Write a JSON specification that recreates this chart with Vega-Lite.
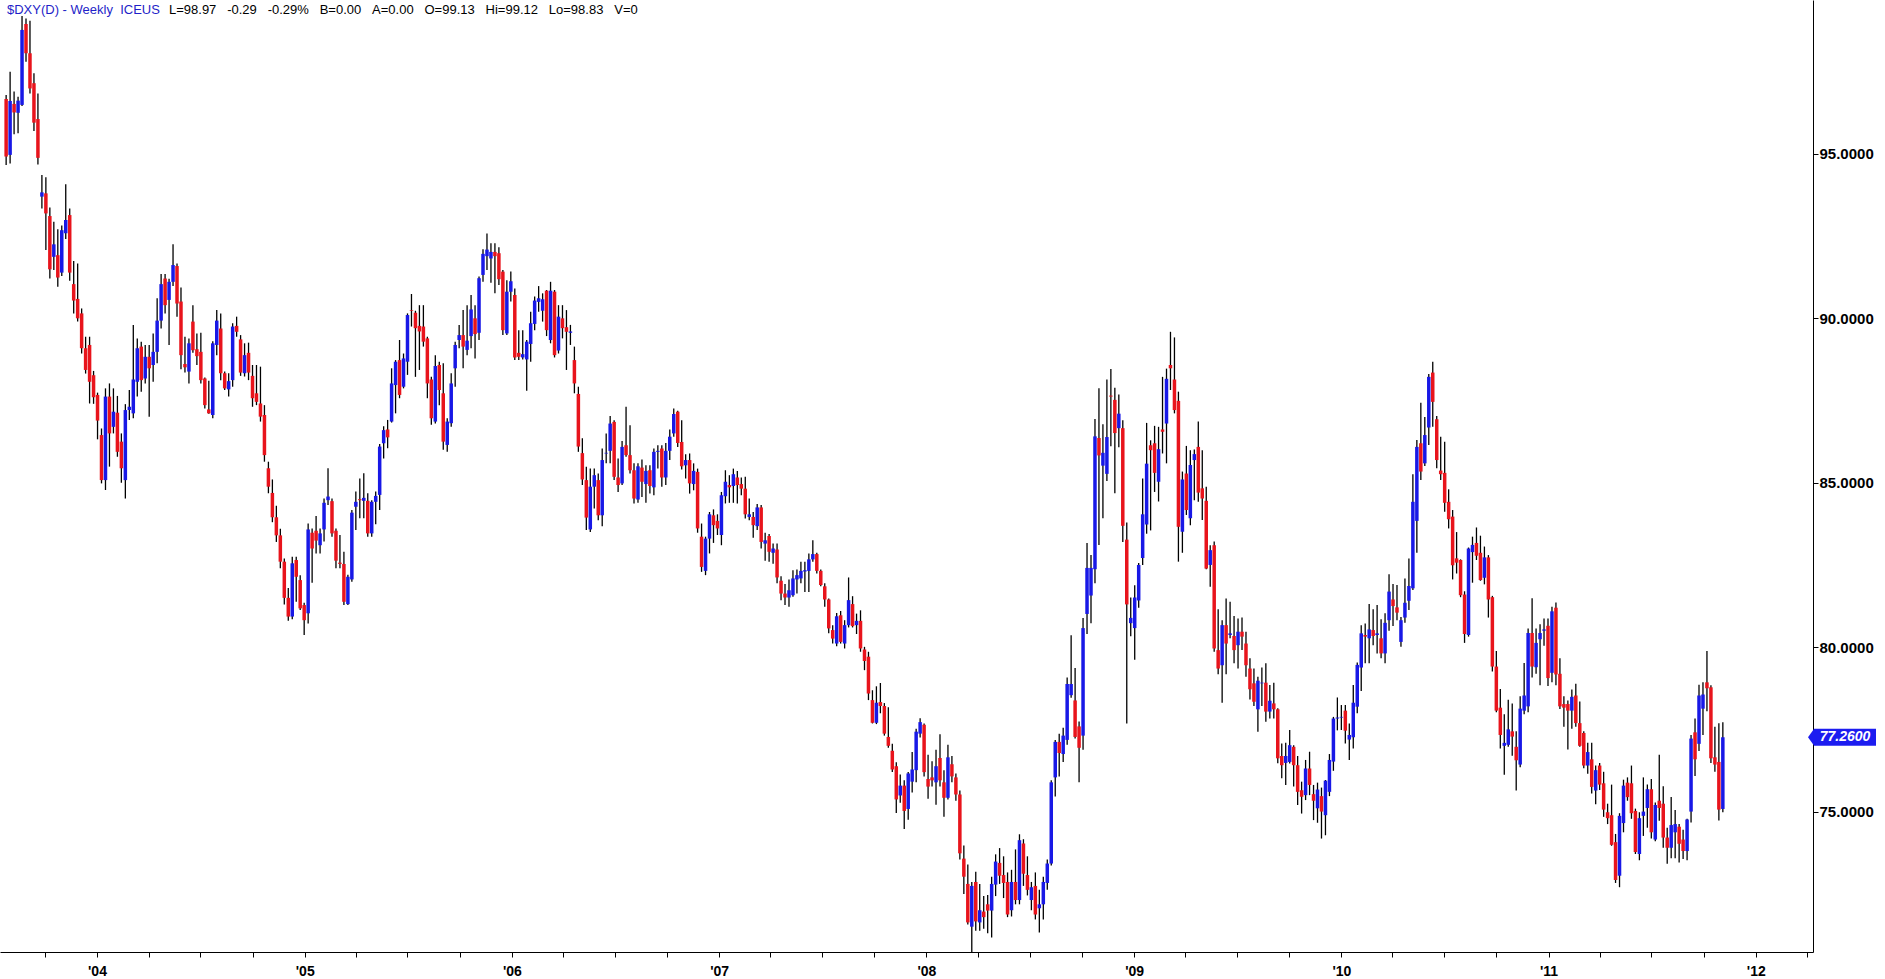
{
"$schema":"https://vega.github.io/schema/vega-lite/v6.json",
"width":1813,"height":952,"padding":0,
"background":"white",
"config":{"view":{"stroke":null}},
"data":{"values":[
{"d":"2003-07-25","o":96.67,"h":96.79,"l":94.66,"c":94.92},
{"d":"2003-08-01","o":94.97,"h":97.5,"l":94.71,"c":96.61},
{"d":"2003-08-08","o":96.52,"h":96.9,"l":95.6,"c":96.26},
{"d":"2003-08-15","o":96.25,"h":96.74,"l":95.63,"c":96.62},
{"d":"2003-08-22","o":96.49,"h":99.19,"l":96.46,"c":98.77},
{"d":"2003-08-29","o":98.95,"h":99.12,"l":97.8,"c":98.06},
{"d":"2003-09-05","o":98.06,"h":99.05,"l":96.84,"c":96.99},
{"d":"2003-09-12","o":97.15,"h":97.45,"l":95.7,"c":95.95},
{"d":"2003-09-19","o":96.06,"h":96.84,"l":94.68,"c":94.88},
{"d":"2003-09-26","o":93.7,"h":94.36,"l":93.34,"c":93.83},
{"d":"2003-10-03","o":93.8,"h":94.29,"l":92.08,"c":93.19},
{"d":"2003-10-10","o":93.11,"h":93.37,"l":91.21,"c":91.49},
{"d":"2003-10-17","o":91.87,"h":92.94,"l":91.47,"c":92.25},
{"d":"2003-10-24","o":91.92,"h":92.71,"l":90.96,"c":91.24},
{"d":"2003-10-31","o":91.39,"h":92.82,"l":91.29,"c":92.68},
{"d":"2003-11-07","o":92.59,"h":94.08,"l":92.41,"c":92.99},
{"d":"2003-11-14","o":93.14,"h":93.34,"l":91.14,"c":91.39},
{"d":"2003-11-21","o":91.04,"h":91.74,"l":90.15,"c":90.54},
{"d":"2003-11-28","o":90.59,"h":91.67,"l":89.9,"c":90.0},
{"d":"2003-12-05","o":90.15,"h":90.3,"l":88.93,"c":89.09},
{"d":"2003-12-12","o":89.09,"h":89.44,"l":88.32,"c":88.43},
{"d":"2003-12-19","o":89.19,"h":89.44,"l":87.41,"c":88.07},
{"d":"2003-12-26","o":88.27,"h":88.4,"l":87.4,"c":87.6},
{"d":"2004-01-02","o":87.67,"h":87.74,"l":86.32,"c":86.89},
{"d":"2004-01-09","o":86.45,"h":86.65,"l":84.98,"c":85.08},
{"d":"2004-01-16","o":85.08,"h":87.87,"l":84.78,"c":87.62},
{"d":"2004-01-23","o":87.62,"h":88.02,"l":85.49,"c":86.5},
{"d":"2004-01-30","o":86.7,"h":87.87,"l":86.5,"c":87.16},
{"d":"2004-02-06","o":87.13,"h":87.64,"l":85.79,"c":85.94},
{"d":"2004-02-13","o":86.25,"h":86.5,"l":85.0,"c":85.44},
{"d":"2004-02-20","o":85.08,"h":87.39,"l":84.52,"c":87.21},
{"d":"2004-02-27","o":87.21,"h":87.82,"l":86.91,"c":87.31},
{"d":"2004-03-05","o":87.11,"h":89.8,"l":86.96,"c":88.14},
{"d":"2004-03-12","o":88.07,"h":89.39,"l":87.62,"c":89.09},
{"d":"2004-03-19","o":89.14,"h":89.29,"l":87.77,"c":88.12},
{"d":"2004-03-26","o":88.17,"h":89.19,"l":88.02,"c":88.83},
{"d":"2004-04-02","o":88.83,"h":89.19,"l":87.01,"c":88.48},
{"d":"2004-04-09","o":88.58,"h":89.54,"l":88.07,"c":88.98},
{"d":"2004-04-16","o":88.98,"h":90.61,"l":88.63,"c":89.93},
{"d":"2004-04-23","o":89.93,"h":91.35,"l":89.69,"c":91.04},
{"d":"2004-04-30","o":91.21,"h":91.35,"l":90.15,"c":90.4},
{"d":"2004-05-07","o":90.56,"h":91.2,"l":89.19,"c":91.11},
{"d":"2004-05-14","o":91.11,"h":92.25,"l":90.98,"c":91.62},
{"d":"2004-05-21","o":91.59,"h":91.67,"l":90.05,"c":90.45},
{"d":"2004-05-28","o":90.51,"h":90.94,"l":88.45,"c":88.88},
{"d":"2004-06-04","o":88.61,"h":89.44,"l":88.35,"c":88.51},
{"d":"2004-06-11","o":88.38,"h":89.39,"l":88.02,"c":89.24},
{"d":"2004-06-18","o":89.9,"h":90.4,"l":88.95,"c":89.03},
{"d":"2004-06-25","o":89.06,"h":89.54,"l":88.58,"c":88.85},
{"d":"2004-07-02","o":88.98,"h":89.56,"l":88.02,"c":88.12},
{"d":"2004-07-09","o":88.17,"h":88.2,"l":87.26,"c":87.36},
{"d":"2004-07-16","o":87.23,"h":88.1,"l":87.1,"c":87.11},
{"d":"2004-07-23","o":87.06,"h":89.3,"l":86.96,"c":89.24},
{"d":"2004-07-30","o":89.19,"h":90.25,"l":88.88,"c":89.93},
{"d":"2004-08-06","o":89.69,"h":90.15,"l":88.12,"c":88.33},
{"d":"2004-08-13","o":88.33,"h":88.38,"l":87.82,"c":87.87},
{"d":"2004-08-20","o":87.84,"h":88.33,"l":87.62,"c":88.09},
{"d":"2004-08-27","o":88.12,"h":89.85,"l":87.92,"c":89.75},
{"d":"2004-09-03","o":89.77,"h":90.05,"l":89.44,"c":89.59},
{"d":"2004-09-10","o":89.36,"h":89.49,"l":88.25,"c":88.35},
{"d":"2004-09-17","o":88.33,"h":89.24,"l":88.23,"c":88.88},
{"d":"2004-09-24","o":88.95,"h":89.26,"l":88.12,"c":88.35},
{"d":"2004-10-01","o":88.25,"h":88.58,"l":87.31,"c":87.57},
{"d":"2004-10-08","o":87.72,"h":88.58,"l":87.36,"c":87.46},
{"d":"2004-10-15","o":87.41,"h":88.53,"l":86.86,"c":87.01},
{"d":"2004-10-22","o":87.06,"h":87.36,"l":85.64,"c":85.84},
{"d":"2004-10-29","o":85.44,"h":85.64,"l":84.68,"c":84.88},
{"d":"2004-11-05","o":84.69,"h":85.1,"l":83.8,"c":83.95},
{"d":"2004-11-12","o":83.95,"h":84.3,"l":83.2,"c":83.4},
{"d":"2004-11-19","o":83.4,"h":83.6,"l":82.4,"c":82.6},
{"d":"2004-11-26","o":82.6,"h":82.7,"l":81.3,"c":81.5},
{"d":"2004-12-03","o":81.5,"h":81.8,"l":80.8,"c":80.93},
{"d":"2004-12-10","o":80.93,"h":82.75,"l":80.85,"c":82.55},
{"d":"2004-12-17","o":82.65,"h":82.75,"l":81.38,"c":82.14},
{"d":"2004-12-24","o":82.04,"h":82.19,"l":81.13,"c":81.18},
{"d":"2004-12-31","o":81.28,"h":81.35,"l":80.37,"c":80.82},
{"d":"2005-01-07","o":81.03,"h":83.76,"l":80.72,"c":83.58},
{"d":"2005-01-14","o":83.48,"h":83.61,"l":81.96,"c":83.0},
{"d":"2005-01-21","o":83.54,"h":83.99,"l":82.85,"c":83.24},
{"d":"2005-01-28","o":83.1,"h":83.61,"l":82.85,"c":83.46},
{"d":"2005-02-04","o":83.58,"h":84.52,"l":83.21,"c":84.39},
{"d":"2005-02-11","o":84.47,"h":85.44,"l":84.32,"c":84.58},
{"d":"2005-02-18","o":84.44,"h":84.52,"l":83.36,"c":83.46},
{"d":"2005-02-25","o":83.54,"h":83.61,"l":82.4,"c":82.63},
{"d":"2005-03-04","o":82.57,"h":83.41,"l":82.4,"c":82.53},
{"d":"2005-03-11","o":82.53,"h":82.9,"l":81.28,"c":81.38},
{"d":"2005-03-18","o":81.31,"h":82.2,"l":81.28,"c":82.14},
{"d":"2005-03-25","o":82.06,"h":84.17,"l":81.99,"c":84.09},
{"d":"2005-04-01","o":84.27,"h":84.73,"l":83.56,"c":84.42},
{"d":"2005-04-08","o":84.5,"h":85.13,"l":83.92,"c":84.47},
{"d":"2005-04-15","o":84.45,"h":85.29,"l":83.92,"c":84.54},
{"d":"2005-04-22","o":84.45,"h":84.68,"l":83.36,"c":83.46},
{"d":"2005-04-29","o":83.46,"h":84.47,"l":83.36,"c":84.42},
{"d":"2005-05-06","o":84.42,"h":84.73,"l":83.74,"c":84.6},
{"d":"2005-05-13","o":84.63,"h":86.18,"l":84.17,"c":86.1},
{"d":"2005-05-20","o":86.2,"h":86.72,"l":85.74,"c":86.6},
{"d":"2005-05-27","o":86.62,"h":86.91,"l":86.05,"c":86.38},
{"d":"2005-06-03","o":86.86,"h":88.48,"l":86.83,"c":88.02},
{"d":"2005-06-10","o":87.97,"h":88.73,"l":87.11,"c":88.68},
{"d":"2005-06-17","o":88.73,"h":89.34,"l":87.57,"c":87.67},
{"d":"2005-06-24","o":87.92,"h":88.93,"l":87.87,"c":88.78},
{"d":"2005-07-01","o":88.68,"h":90.15,"l":88.28,"c":90.1},
{"d":"2005-07-08","o":90.25,"h":90.74,"l":89.75,"c":90.23},
{"d":"2005-07-15","o":90.17,"h":90.23,"l":88.22,"c":89.7},
{"d":"2005-07-22","o":89.77,"h":90.4,"l":88.43,"c":89.6},
{"d":"2005-07-29","o":89.75,"h":90.4,"l":89.14,"c":89.29},
{"d":"2005-08-05","o":89.39,"h":89.44,"l":87.57,"c":88.02},
{"d":"2005-08-12","o":88.14,"h":88.22,"l":86.76,"c":86.96},
{"d":"2005-08-19","o":86.86,"h":88.88,"l":86.8,"c":88.55},
{"d":"2005-08-26","o":88.58,"h":88.68,"l":87.36,"c":87.82},
{"d":"2005-09-02","o":87.72,"h":88.63,"l":86.0,"c":86.25},
{"d":"2005-09-09","o":86.15,"h":86.96,"l":85.94,"c":86.86},
{"d":"2005-09-16","o":86.81,"h":88.33,"l":86.7,"c":88.02},
{"d":"2005-09-23","o":88.48,"h":89.29,"l":87.92,"c":89.19},
{"d":"2005-09-30","o":89.34,"h":89.8,"l":89.09,"c":89.49},
{"d":"2005-10-07","o":89.49,"h":90.25,"l":88.48,"c":89.14},
{"d":"2005-10-14","o":89.04,"h":90.4,"l":88.88,"c":89.32},
{"d":"2005-10-21","o":89.46,"h":90.71,"l":89.09,"c":90.27},
{"d":"2005-10-28","o":90.0,"h":90.4,"l":88.78,"c":89.52},
{"d":"2005-11-04","o":89.56,"h":91.27,"l":89.34,"c":91.22},
{"d":"2005-11-11","o":91.32,"h":92.1,"l":91.11,"c":91.96},
{"d":"2005-11-18","o":91.89,"h":92.58,"l":91.47,"c":92.09},
{"d":"2005-11-25","o":91.82,"h":92.28,"l":91.08,"c":92.02},
{"d":"2005-12-02","o":92.02,"h":92.28,"l":90.76,"c":91.89},
{"d":"2005-12-09","o":91.98,"h":92.16,"l":91.01,"c":91.19},
{"d":"2005-12-16","o":91.42,"h":91.47,"l":89.49,"c":89.64},
{"d":"2005-12-23","o":89.54,"h":91.16,"l":89.49,"c":90.81},
{"d":"2005-12-30","o":90.81,"h":91.42,"l":90.51,"c":91.13},
{"d":"2006-01-06","o":90.71,"h":90.91,"l":88.73,"c":88.81},
{"d":"2006-01-13","o":88.95,"h":89.64,"l":88.73,"c":88.83},
{"d":"2006-01-20","o":88.81,"h":89.64,"l":88.75,"c":88.91},
{"d":"2006-01-27","o":88.75,"h":89.34,"l":87.8,"c":89.29},
{"d":"2006-02-03","o":89.22,"h":90.2,"l":88.68,"c":89.85},
{"d":"2006-02-10","o":89.83,"h":90.66,"l":89.64,"c":90.54},
{"d":"2006-02-17","o":90.5,"h":90.98,"l":90.2,"c":90.61},
{"d":"2006-02-24","o":90.23,"h":90.76,"l":89.9,"c":90.58},
{"d":"2006-03-03","o":90.84,"h":90.86,"l":89.46,"c":89.64},
{"d":"2006-03-10","o":89.34,"h":91.11,"l":89.24,"c":90.84},
{"d":"2006-03-17","o":90.81,"h":90.86,"l":88.81,"c":88.88},
{"d":"2006-03-24","o":89.02,"h":90.4,"l":88.93,"c":90.05},
{"d":"2006-03-31","o":90.0,"h":90.4,"l":89.39,"c":89.7},
{"d":"2006-04-07","o":89.73,"h":90.25,"l":88.43,"c":89.59},
{"d":"2006-04-14","o":89.56,"h":89.8,"l":89.19,"c":89.6},
{"d":"2006-04-21","o":88.73,"h":89.14,"l":87.72,"c":88.02},
{"d":"2006-04-28","o":87.7,"h":87.92,"l":85.94,"c":86.1},
{"d":"2006-05-05","o":85.9,"h":86.35,"l":84.93,"c":85.1},
{"d":"2006-05-12","o":85.08,"h":85.49,"l":83.56,"c":83.94},
{"d":"2006-05-19","o":83.58,"h":85.43,"l":83.5,"c":84.88},
{"d":"2006-05-26","o":84.88,"h":85.43,"l":84.22,"c":85.23},
{"d":"2006-06-02","o":85.08,"h":85.28,"l":83.86,"c":84.01},
{"d":"2006-06-09","o":84.01,"h":86.04,"l":83.68,"c":85.69},
{"d":"2006-06-16","o":85.89,"h":86.5,"l":85.59,"c":85.91},
{"d":"2006-06-23","o":85.97,"h":87.03,"l":85.59,"c":86.8},
{"d":"2006-06-30","o":86.85,"h":86.9,"l":85.08,"c":85.18},
{"d":"2006-07-07","o":85.16,"h":85.74,"l":84.72,"c":84.93},
{"d":"2006-07-14","o":84.98,"h":86.27,"l":84.93,"c":86.09},
{"d":"2006-07-21","o":86.14,"h":87.31,"l":85.79,"c":85.84},
{"d":"2006-07-28","o":85.84,"h":86.75,"l":85.28,"c":85.38},
{"d":"2006-08-04","o":85.38,"h":85.59,"l":84.37,"c":84.52},
{"d":"2006-08-11","o":84.49,"h":85.59,"l":84.39,"c":85.5},
{"d":"2006-08-18","o":85.46,"h":85.71,"l":84.57,"c":85.03},
{"d":"2006-08-25","o":84.96,"h":85.53,"l":84.39,"c":85.36},
{"d":"2006-09-01","o":85.38,"h":85.53,"l":84.67,"c":84.9},
{"d":"2006-09-08","o":84.86,"h":86.04,"l":84.62,"c":85.94},
{"d":"2006-09-15","o":85.94,"h":86.14,"l":85.43,"c":85.97},
{"d":"2006-09-22","o":86.04,"h":86.14,"l":84.88,"c":85.16},
{"d":"2006-09-29","o":85.16,"h":86.21,"l":84.93,"c":85.97},
{"d":"2006-10-06","o":85.97,"h":86.62,"l":85.69,"c":86.4},
{"d":"2006-10-13","o":86.5,"h":87.26,"l":86.4,"c":87.09},
{"d":"2006-10-20","o":87.16,"h":87.19,"l":86.09,"c":86.21},
{"d":"2006-10-27","o":86.24,"h":86.9,"l":85.4,"c":85.5},
{"d":"2006-11-03","o":85.53,"h":85.87,"l":85.13,"c":85.69},
{"d":"2006-11-10","o":85.69,"h":85.89,"l":84.67,"c":84.98},
{"d":"2006-11-17","o":84.96,"h":85.59,"l":84.77,"c":85.36},
{"d":"2006-11-24","o":85.33,"h":85.43,"l":83.48,"c":83.61},
{"d":"2006-12-01","o":83.36,"h":83.76,"l":82.29,"c":82.44},
{"d":"2006-12-08","o":82.32,"h":83.36,"l":82.19,"c":83.3},
{"d":"2006-12-15","o":83.3,"h":84.11,"l":82.85,"c":84.04},
{"d":"2006-12-22","o":84.01,"h":84.19,"l":83.17,"c":83.71},
{"d":"2006-12-29","o":83.84,"h":84.04,"l":83.41,"c":83.61},
{"d":"2007-01-05","o":83.41,"h":84.72,"l":83.1,"c":84.62},
{"d":"2007-01-12","o":84.59,"h":85.38,"l":84.37,"c":85.03},
{"d":"2007-01-19","o":84.93,"h":85.23,"l":84.39,"c":84.86},
{"d":"2007-01-26","o":84.9,"h":85.43,"l":84.39,"c":85.26},
{"d":"2007-02-02","o":85.16,"h":85.36,"l":84.37,"c":84.93},
{"d":"2007-02-09","o":84.96,"h":85.16,"l":84.62,"c":84.82},
{"d":"2007-02-16","o":84.82,"h":85.18,"l":83.91,"c":84.04},
{"d":"2007-02-23","o":83.96,"h":84.52,"l":83.86,"c":84.04},
{"d":"2007-03-02","o":83.96,"h":84.11,"l":83.33,"c":83.71},
{"d":"2007-03-09","o":83.68,"h":84.35,"l":83.56,"c":84.25},
{"d":"2007-03-16","o":84.25,"h":84.32,"l":83.0,"c":83.2},
{"d":"2007-03-23","o":83.15,"h":83.48,"l":82.63,"c":83.25},
{"d":"2007-03-30","o":83.38,"h":83.44,"l":82.6,"c":82.9},
{"d":"2007-04-06","o":82.87,"h":83.15,"l":82.54,"c":83.0},
{"d":"2007-04-13","o":82.97,"h":83.15,"l":81.94,"c":82.12},
{"d":"2007-04-20","o":82.02,"h":82.16,"l":81.43,"c":81.63},
{"d":"2007-04-27","o":81.63,"h":81.92,"l":81.28,"c":81.51},
{"d":"2007-05-04","o":81.51,"h":82.06,"l":81.23,"c":81.73},
{"d":"2007-05-11","o":81.58,"h":82.34,"l":81.53,"c":82.09},
{"d":"2007-05-18","o":82.06,"h":82.36,"l":81.63,"c":82.19},
{"d":"2007-05-25","o":82.09,"h":82.6,"l":81.94,"c":82.32},
{"d":"2007-06-01","o":82.3,"h":82.6,"l":81.68,"c":82.34},
{"d":"2007-06-08","o":82.32,"h":82.85,"l":81.68,"c":82.67},
{"d":"2007-06-15","o":82.67,"h":83.25,"l":82.6,"c":82.83},
{"d":"2007-06-22","o":82.83,"h":82.87,"l":82.24,"c":82.32},
{"d":"2007-06-29","o":82.32,"h":82.36,"l":81.85,"c":81.89},
{"d":"2007-07-06","o":81.85,"h":81.94,"l":81.23,"c":81.45},
{"d":"2007-07-13","o":81.45,"h":81.48,"l":80.42,"c":80.57},
{"d":"2007-07-20","o":80.52,"h":80.67,"l":80.11,"c":80.26},
{"d":"2007-07-27","o":80.11,"h":81.04,"l":80.03,"c":80.94},
{"d":"2007-08-03","o":80.97,"h":81.1,"l":80.11,"c":80.16},
{"d":"2007-08-10","o":80.11,"h":80.82,"l":79.96,"c":80.67},
{"d":"2007-08-17","o":80.67,"h":82.12,"l":80.6,"c":81.43},
{"d":"2007-08-24","o":81.31,"h":81.55,"l":80.6,"c":80.64},
{"d":"2007-08-31","o":80.67,"h":81.02,"l":80.4,"c":80.8},
{"d":"2007-09-07","o":80.8,"h":81.12,"l":79.86,"c":79.96},
{"d":"2007-09-14","o":79.93,"h":80.01,"l":79.3,"c":79.58},
{"d":"2007-09-21","o":79.71,"h":79.86,"l":78.39,"c":78.59},
{"d":"2007-09-28","o":78.39,"h":78.69,"l":77.68,"c":77.7},
{"d":"2007-10-05","o":77.7,"h":78.81,"l":77.66,"c":78.31},
{"d":"2007-10-12","o":78.33,"h":78.91,"l":77.99,"c":78.21},
{"d":"2007-10-19","o":78.21,"h":78.3,"l":77.31,"c":77.37},
{"d":"2007-10-26","o":77.27,"h":78.17,"l":76.94,"c":77.0},
{"d":"2007-11-02","o":76.85,"h":77.06,"l":76.2,"c":76.28},
{"d":"2007-11-09","o":76.38,"h":76.5,"l":74.96,"c":75.37},
{"d":"2007-11-16","o":75.49,"h":76.13,"l":75.27,"c":75.79},
{"d":"2007-11-23","o":75.79,"h":75.95,"l":74.47,"c":75.02},
{"d":"2007-11-30","o":75.08,"h":76.2,"l":74.75,"c":76.16},
{"d":"2007-12-07","o":75.91,"h":76.81,"l":75.58,"c":76.28},
{"d":"2007-12-14","o":76.26,"h":77.52,"l":75.89,"c":77.43},
{"d":"2007-12-21","o":77.37,"h":77.84,"l":77.25,"c":77.72},
{"d":"2007-12-28","o":77.64,"h":77.68,"l":76.07,"c":76.2},
{"d":"2008-01-04","o":75.99,"h":76.73,"l":75.39,"c":75.76},
{"d":"2008-01-11","o":76.04,"h":76.53,"l":75.76,"c":75.95},
{"d":"2008-01-18","o":75.89,"h":76.88,"l":75.21,"c":76.38},
{"d":"2008-01-25","o":76.63,"h":77.35,"l":75.76,"c":75.95},
{"d":"2008-02-01","o":75.89,"h":76.26,"l":74.84,"c":75.42},
{"d":"2008-02-08","o":75.42,"h":77.03,"l":75.37,"c":76.65},
{"d":"2008-02-15","o":76.44,"h":76.69,"l":75.89,"c":76.07},
{"d":"2008-02-22","o":76.04,"h":76.16,"l":75.33,"c":75.52},
{"d":"2008-02-29","o":75.52,"h":75.64,"l":73.54,"c":73.73},
{"d":"2008-03-07","o":73.57,"h":73.97,"l":72.49,"c":73.02},
{"d":"2008-03-14","o":72.8,"h":73.39,"l":71.57,"c":71.63},
{"d":"2008-03-21","o":71.5,"h":72.86,"l":70.7,"c":72.74},
{"d":"2008-03-28","o":72.86,"h":73.17,"l":71.38,"c":71.66},
{"d":"2008-04-04","o":71.63,"h":72.8,"l":71.38,"c":72.0},
{"d":"2008-04-11","o":71.96,"h":72.43,"l":71.44,"c":71.79},
{"d":"2008-04-18","o":72.18,"h":72.46,"l":71.3,"c":71.99},
{"d":"2008-04-25","o":71.99,"h":73.02,"l":71.17,"c":72.8},
{"d":"2008-05-02","o":72.78,"h":73.7,"l":72.43,"c":73.48},
{"d":"2008-05-09","o":73.44,"h":73.89,"l":72.8,"c":73.05},
{"d":"2008-05-16","o":73.07,"h":73.64,"l":72.37,"c":72.83},
{"d":"2008-05-23","o":72.86,"h":73.15,"l":71.79,"c":71.87},
{"d":"2008-05-30","o":72.0,"h":73.23,"l":71.81,"c":72.86},
{"d":"2008-06-06","o":72.86,"h":73.85,"l":72.18,"c":72.31},
{"d":"2008-06-13","o":72.31,"h":74.31,"l":72.18,"c":74.13},
{"d":"2008-06-20","o":74.03,"h":74.16,"l":72.74,"c":73.11},
{"d":"2008-06-27","o":73.07,"h":73.64,"l":72.45,"c":72.62},
{"d":"2008-07-04","o":72.31,"h":72.86,"l":72.0,"c":72.7},
{"d":"2008-07-11","o":72.74,"h":73.15,"l":71.72,"c":71.87},
{"d":"2008-07-18","o":72.06,"h":72.62,"l":71.32,"c":72.18},
{"d":"2008-07-25","o":72.18,"h":73.02,"l":71.72,"c":72.86},
{"d":"2008-08-01","o":72.83,"h":73.54,"l":72.62,"c":73.42},
{"d":"2008-08-08","o":73.42,"h":75.95,"l":73.36,"c":75.89},
{"d":"2008-08-15","o":76.04,"h":77.18,"l":75.46,"c":77.12},
{"d":"2008-08-22","o":77.12,"h":77.37,"l":76.07,"c":76.78},
{"d":"2008-08-29","o":76.75,"h":77.55,"l":76.51,"c":77.31},
{"d":"2008-09-05","o":77.18,"h":79.08,"l":77.03,"c":78.88},
{"d":"2008-09-12","o":78.54,"h":80.36,"l":78.46,"c":78.88},
{"d":"2008-09-19","o":78.38,"h":79.37,"l":77.22,"c":77.27},
{"d":"2008-09-26","o":77.59,"h":77.74,"l":75.89,"c":76.94},
{"d":"2008-10-03","o":77.31,"h":80.89,"l":76.88,"c":80.58},
{"d":"2008-10-10","o":81.01,"h":83.17,"l":80.4,"c":82.41},
{"d":"2008-10-17","o":81.57,"h":82.8,"l":80.73,"c":82.41},
{"d":"2008-10-24","o":82.37,"h":86.94,"l":81.94,"c":86.41},
{"d":"2008-10-31","o":86.36,"h":87.87,"l":83.11,"c":85.83},
{"d":"2008-11-07","o":85.52,"h":86.78,"l":83.92,"c":85.91},
{"d":"2008-11-14","o":85.27,"h":88.14,"l":85.05,"c":86.39},
{"d":"2008-11-21","o":87.65,"h":88.46,"l":86.11,"c":87.62},
{"d":"2008-11-28","o":87.52,"h":87.89,"l":84.68,"c":86.51},
{"d":"2008-12-05","o":86.66,"h":87.68,"l":86.08,"c":87.1},
{"d":"2008-12-12","o":86.66,"h":86.9,"l":83.2,"c":83.69},
{"d":"2008-12-19","o":83.27,"h":83.79,"l":77.68,"c":81.3},
{"d":"2008-12-26","o":80.73,"h":81.51,"l":80.33,"c":80.89},
{"d":"2009-01-02","o":80.58,"h":81.88,"l":79.62,"c":81.51},
{"d":"2009-01-09","o":81.42,"h":82.56,"l":81.2,"c":82.5},
{"d":"2009-01-16","o":82.71,"h":85.13,"l":82.5,"c":84.04},
{"d":"2009-01-23","o":83.73,"h":86.82,"l":83.45,"c":85.58},
{"d":"2009-01-30","o":86.14,"h":86.29,"l":83.55,"c":85.99},
{"d":"2009-02-06","o":86.2,"h":86.73,"l":84.72,"c":85.3},
{"d":"2009-02-13","o":85.03,"h":86.7,"l":84.43,"c":86.02},
{"d":"2009-02-20","o":86.62,"h":88.22,"l":85.89,"c":86.55},
{"d":"2009-02-27","o":86.8,"h":88.47,"l":85.59,"c":88.16},
{"d":"2009-03-06","o":88.58,"h":89.59,"l":87.82,"c":88.48},
{"d":"2009-03-13","o":88.14,"h":89.42,"l":87.11,"c":87.21},
{"d":"2009-03-20","o":87.49,"h":87.77,"l":82.6,"c":83.66},
{"d":"2009-03-27","o":83.51,"h":85.34,"l":82.87,"c":85.1},
{"d":"2009-04-03","o":85.28,"h":86.12,"l":84.02,"c":84.17},
{"d":"2009-04-10","o":83.92,"h":85.99,"l":83.71,"c":85.54},
{"d":"2009-04-17","o":85.69,"h":86.01,"l":84.47,"c":85.87},
{"d":"2009-04-24","o":86.09,"h":86.86,"l":84.42,"c":84.7},
{"d":"2009-05-01","o":84.83,"h":85.99,"l":83.87,"c":84.52},
{"d":"2009-05-08","o":84.45,"h":84.88,"l":82.37,"c":82.39},
{"d":"2009-05-15","o":82.5,"h":83.1,"l":81.84,"c":82.95},
{"d":"2009-05-22","o":83.1,"h":83.21,"l":79.86,"c":79.96},
{"d":"2009-05-29","o":79.91,"h":81.15,"l":79.18,"c":79.35},
{"d":"2009-06-05","o":79.45,"h":80.82,"l":78.31,"c":80.67},
{"d":"2009-06-12","o":80.67,"h":81.48,"l":79.18,"c":80.11},
{"d":"2009-06-19","o":80.37,"h":81.38,"l":80.27,"c":80.42},
{"d":"2009-06-26","o":80.34,"h":80.95,"l":79.51,"c":79.91},
{"d":"2009-07-03","o":80.06,"h":80.87,"l":79.35,"c":80.47},
{"d":"2009-07-10","o":80.47,"h":80.9,"l":79.91,"c":80.32},
{"d":"2009-07-17","o":80.11,"h":80.47,"l":79.1,"c":79.45},
{"d":"2009-07-24","o":79.35,"h":79.66,"l":78.41,"c":78.72},
{"d":"2009-07-31","o":78.9,"h":79.35,"l":78.21,"c":78.34},
{"d":"2009-08-07","o":78.11,"h":79.1,"l":77.43,"c":78.98},
{"d":"2009-08-14","o":78.9,"h":79.38,"l":78.21,"c":78.92},
{"d":"2009-08-21","o":78.92,"h":79.51,"l":77.73,"c":78.04},
{"d":"2009-08-28","o":78.04,"h":78.85,"l":77.83,"c":78.37},
{"d":"2009-09-04","o":78.29,"h":78.92,"l":77.83,"c":78.11},
{"d":"2009-09-11","o":78.11,"h":78.14,"l":76.47,"c":76.62},
{"d":"2009-09-18","o":76.69,"h":77.07,"l":76.01,"c":76.41},
{"d":"2009-09-25","o":76.48,"h":77.09,"l":75.81,"c":76.69},
{"d":"2009-10-02","o":76.51,"h":77.48,"l":76.46,"c":77.02},
{"d":"2009-10-09","o":76.97,"h":77.02,"l":75.76,"c":76.41},
{"d":"2009-10-16","o":76.41,"h":76.69,"l":75.2,"c":75.6},
{"d":"2009-10-23","o":75.65,"h":75.91,"l":74.94,"c":75.45},
{"d":"2009-10-30","o":75.5,"h":76.57,"l":75.35,"c":76.31},
{"d":"2009-11-06","o":76.31,"h":76.82,"l":75.5,"c":75.81},
{"d":"2009-11-13","o":75.53,"h":75.81,"l":74.74,"c":75.33},
{"d":"2009-11-20","o":75.1,"h":75.88,"l":74.66,"c":75.67},
{"d":"2009-11-27","o":75.47,"h":75.73,"l":74.18,"c":75.0},
{"d":"2009-12-04","o":74.89,"h":75.96,"l":74.28,"c":75.94},
{"d":"2009-12-11","o":75.6,"h":76.75,"l":75.47,"c":76.57},
{"d":"2009-12-18","o":76.52,"h":77.88,"l":76.24,"c":77.83},
{"d":"2009-12-25","o":77.83,"h":78.47,"l":77.47,"c":77.86},
{"d":"2010-01-01","o":77.86,"h":78.24,"l":77.48,"c":77.88},
{"d":"2010-01-08","o":78.07,"h":78.24,"l":77.07,"c":77.46},
{"d":"2010-01-15","o":77.19,"h":77.68,"l":76.57,"c":77.33},
{"d":"2010-01-22","o":77.26,"h":78.85,"l":76.92,"c":78.31},
{"d":"2010-01-29","o":78.19,"h":79.53,"l":77.99,"c":79.46},
{"d":"2010-02-05","o":79.38,"h":80.67,"l":78.67,"c":80.42},
{"d":"2010-02-12","o":80.37,"h":80.72,"l":79.51,"c":80.32},
{"d":"2010-02-19","o":80.27,"h":81.31,"l":79.51,"c":80.54},
{"d":"2010-02-26","o":80.52,"h":81.15,"l":80.06,"c":80.34},
{"d":"2010-03-05","o":80.37,"h":81.28,"l":79.81,"c":80.42},
{"d":"2010-03-12","o":80.27,"h":80.85,"l":79.66,"c":79.81},
{"d":"2010-03-19","o":79.81,"h":81.03,"l":79.51,"c":80.74},
{"d":"2010-03-26","o":80.82,"h":82.22,"l":80.5,"c":81.69},
{"d":"2010-04-02","o":81.45,"h":81.92,"l":80.64,"c":81.25},
{"d":"2010-04-09","o":81.21,"h":81.89,"l":80.82,"c":81.05},
{"d":"2010-04-16","o":80.16,"h":80.92,"l":80.01,"c":80.82},
{"d":"2010-04-23","o":80.9,"h":82.09,"l":80.74,"c":81.35},
{"d":"2010-04-30","o":81.41,"h":82.7,"l":81.13,"c":81.86},
{"d":"2010-05-07","o":81.79,"h":85.26,"l":81.74,"c":84.42},
{"d":"2010-05-14","o":83.84,"h":86.3,"l":82.87,"c":86.09},
{"d":"2010-05-21","o":86.2,"h":87.43,"l":85.08,"c":85.34},
{"d":"2010-05-28","o":85.59,"h":87.0,"l":85.51,"c":86.45},
{"d":"2010-06-04","o":86.68,"h":88.31,"l":86.15,"c":88.22},
{"d":"2010-06-11","o":88.35,"h":88.68,"l":86.7,"c":87.46},
{"d":"2010-06-18","o":86.93,"h":87.03,"l":85.44,"c":85.69},
{"d":"2010-06-25","o":85.37,"h":86.4,"l":85.08,"c":85.26},
{"d":"2010-07-02","o":85.3,"h":86.25,"l":84.12,"c":84.39},
{"d":"2010-07-09","o":84.42,"h":84.8,"l":83.61,"c":83.89},
{"d":"2010-07-16","o":83.97,"h":84.17,"l":82.06,"c":82.49},
{"d":"2010-07-23","o":82.7,"h":83.5,"l":82.24,"c":82.57},
{"d":"2010-07-30","o":82.65,"h":82.67,"l":81.52,"c":81.58},
{"d":"2010-08-06","o":81.6,"h":81.7,"l":80.13,"c":80.4},
{"d":"2010-08-13","o":80.37,"h":83.03,"l":80.32,"c":83.0},
{"d":"2010-08-20","o":82.89,"h":83.36,"l":81.96,"c":83.11},
{"d":"2010-08-27","o":83.17,"h":83.64,"l":82.65,"c":82.78},
{"d":"2010-09-03","o":82.87,"h":83.39,"l":82.02,"c":82.04},
{"d":"2010-09-10","o":82.11,"h":83.06,"l":81.91,"c":82.73},
{"d":"2010-09-17","o":82.73,"h":82.8,"l":80.9,"c":81.45},
{"d":"2010-09-24","o":81.52,"h":81.56,"l":79.26,"c":79.41},
{"d":"2010-10-01","o":79.41,"h":79.88,"l":78.02,"c":78.07},
{"d":"2010-10-08","o":78.16,"h":78.73,"l":76.92,"c":77.33},
{"d":"2010-10-15","o":77.0,"h":77.96,"l":76.12,"c":77.09},
{"d":"2010-10-22","o":77.03,"h":78.4,"l":76.97,"c":77.5},
{"d":"2010-10-29","o":77.44,"h":78.29,"l":76.7,"c":77.28},
{"d":"2010-11-05","o":76.97,"h":77.44,"l":75.64,"c":76.56},
{"d":"2010-11-12","o":76.43,"h":78.51,"l":76.35,"c":78.13},
{"d":"2010-11-19","o":78.07,"h":79.52,"l":77.96,"c":78.53},
{"d":"2010-11-26","o":78.2,"h":80.57,"l":78.02,"c":80.43},
{"d":"2010-12-03","o":80.43,"h":81.49,"l":79.08,"c":79.41},
{"d":"2010-12-10","o":79.39,"h":80.57,"l":79.19,"c":80.13},
{"d":"2010-12-17","o":80.24,"h":80.7,"l":78.84,"c":80.43},
{"d":"2010-12-24","o":80.5,"h":80.87,"l":80.04,"c":80.54},
{"d":"2010-12-31","o":80.65,"h":80.87,"l":78.82,"c":79.06},
{"d":"2011-01-07","o":79.22,"h":81.23,"l":78.93,"c":81.09},
{"d":"2011-01-14","o":81.2,"h":81.36,"l":78.84,"c":79.17},
{"d":"2011-01-21","o":79.19,"h":79.66,"l":78.12,"c":78.2},
{"d":"2011-01-28","o":78.27,"h":78.51,"l":77.58,"c":78.16},
{"d":"2011-02-04","o":78.27,"h":78.38,"l":76.89,"c":78.07},
{"d":"2011-02-11","o":78.07,"h":78.71,"l":77.52,"c":78.49},
{"d":"2011-02-18","o":78.53,"h":78.89,"l":77.58,"c":77.69},
{"d":"2011-02-25","o":77.69,"h":78.35,"l":76.97,"c":77.0},
{"d":"2011-03-04","o":77.39,"h":77.44,"l":76.32,"c":76.4},
{"d":"2011-03-11","o":76.4,"h":77.09,"l":76.15,"c":76.81},
{"d":"2011-03-18","o":76.59,"h":77.09,"l":75.55,"c":75.75},
{"d":"2011-03-25","o":75.64,"h":76.4,"l":75.22,"c":76.26},
{"d":"2011-04-01","o":76.4,"h":76.48,"l":75.66,"c":75.82},
{"d":"2011-04-08","o":75.86,"h":76.21,"l":74.84,"c":75.06},
{"d":"2011-04-15","o":74.98,"h":75.24,"l":74.62,"c":74.8},
{"d":"2011-04-22","o":74.89,"h":75.82,"l":73.96,"c":73.99},
{"d":"2011-04-29","o":74.07,"h":74.32,"l":72.83,"c":72.92},
{"d":"2011-05-06","o":73.05,"h":74.95,"l":72.7,"c":74.87},
{"d":"2011-05-13","o":74.65,"h":75.97,"l":74.37,"c":75.79},
{"d":"2011-05-20","o":75.88,"h":76.04,"l":75.33,"c":75.44},
{"d":"2011-05-27","o":75.86,"h":76.4,"l":74.78,"c":74.95},
{"d":"2011-06-03","o":75.02,"h":75.09,"l":73.71,"c":73.77},
{"d":"2011-06-10","o":73.71,"h":74.98,"l":73.52,"c":74.8},
{"d":"2011-06-17","o":74.87,"h":76.04,"l":74.26,"c":75.0},
{"d":"2011-06-24","o":75.11,"h":75.82,"l":74.51,"c":75.68},
{"d":"2011-07-01","o":75.68,"h":75.99,"l":74.18,"c":74.37},
{"d":"2011-07-08","o":74.15,"h":75.28,"l":74.1,"c":75.2},
{"d":"2011-07-15","o":75.33,"h":76.73,"l":74.72,"c":75.11},
{"d":"2011-07-22","o":75.24,"h":75.77,"l":73.9,"c":74.21},
{"d":"2011-07-29","o":74.21,"h":74.51,"l":73.41,"c":73.9},
{"d":"2011-08-05","o":73.9,"h":75.44,"l":73.58,"c":74.59},
{"d":"2011-08-12","o":74.37,"h":75.05,"l":73.58,"c":74.62},
{"d":"2011-08-19","o":74.54,"h":74.62,"l":73.45,"c":74.02},
{"d":"2011-08-26","o":74.15,"h":74.45,"l":73.56,"c":73.8},
{"d":"2011-09-02","o":73.8,"h":74.78,"l":73.52,"c":74.76},
{"d":"2011-09-09","o":75.0,"h":77.33,"l":74.67,"c":77.22},
{"d":"2011-09-16","o":77.41,"h":77.83,"l":76.08,"c":76.59},
{"d":"2011-09-23","o":77.06,"h":78.86,"l":76.84,"c":78.53},
{"d":"2011-09-30","o":78.13,"h":78.93,"l":77.33,"c":78.56},
{"d":"2011-10-07","o":78.93,"h":79.88,"l":78.05,"c":78.75},
{"d":"2011-10-14","o":78.78,"h":78.84,"l":76.48,"c":76.62},
{"d":"2011-10-21","o":76.65,"h":77.58,"l":76.21,"c":76.43},
{"d":"2011-10-28","o":76.51,"h":77.69,"l":74.73,"c":75.06},
{"d":"2011-11-04","o":75.08,"h":77.72,"l":74.98,"c":77.26}
]},
"layer":[
{"mark":{"type":"rule","color":"#000000","strokeWidth":1.3},
 "encoding":{
  "x":{"field":"d","type":"temporal","scale":{"type":"utc","domain":["2003-07-23","2012-04-02"]},
   "axis":{"orient":"bottom","title":null,"grid":false,"tickCount":{"interval":"month","step":3},"labelExpr":"utcmonth(datum.value)==0 ? \"'\" + utcFormat(datum.value,'%y') : ''","labelFont":"Liberation Sans","labelFontSize":14,"labelFontWeight":"bold","labelColor":"#000000","tickColor":"#000000","domainColor":"#000000","tickSize":5,"labelPadding":7,"labelOverlap":false,"labelFlush":false,"labelBound":false}},
  "y":{"field":"l","type":"quantitative","scale":{"domain":[70.73,99.68],"nice":false,"zero":false},
   "axis":{"orient":"right","title":null,"grid":false,"values":[75,80,85,90,95],"format":".4f","labelFont":"Liberation Sans","labelFontSize":15,"labelFontWeight":"bold","labelColor":"#000000","tickColor":"#000000","domainColor":"#000000","tickSize":5,"labelPadding":1}},
  "y2":{"field":"h"}}},
{"mark":{"type":"bar","size":3.5},
 "encoding":{
  "x":{"field":"d","type":"temporal"},
  "y":{"field":"o","type":"quantitative"},
  "y2":{"field":"c"},
  "color":{"condition":{"test":"datum.c >= datum.o","value":"#1818e6"},"value":"#e8141c"}}},
{"data":{"values":[{"p":77.26,"t":"77.2600"}]},
 "mark":{"type":"point","shape":"M-1,0L-0.82,-0.25L1,-0.25L1,0.25L-0.82,0.25Z","size":4624,"filled":true,"color":"#1c1cf0","opacity":1,"xOffset":34,"strokeWidth":0},
 "encoding":{"x":{"datum":{"year":2012,"month":4,"date":2,"utc":true},"type":"temporal"},"y":{"field":"p","type":"quantitative"}}},
{"data":{"values":[{"p":77.26,"t":"77.2600"}]},
 "mark":{"type":"text","color":"#ffffff","font":"Liberation Sans","fontSize":14,"fontWeight":"bold","fontStyle":"italic","align":"center","baseline":"middle","xOffset":37},
 "encoding":{"x":{"datum":{"year":2012,"month":4,"date":2,"utc":true},"type":"temporal"},"y":{"field":"p","type":"quantitative"},"text":{"field":"t"}}},
{"data":{"values":[{"label":"$DXY(D) - Weekly\u00a0\u00a0ICEUS"}]},
 "mark":{"type":"text","color":"#1f1fc8","font":"Liberation Sans","fontSize":13,"align":"left","baseline":"alphabetic","dx":2,"dy":14},
 "encoding":{"x":{"datum":{"year":2003,"month":7,"date":23,"utc":true},"type":"temporal"},"y":{"datum":99.68,"type":"quantitative"},"text":{"field":"label"}}},
{"data":{"values":[{"label":"L=98.97\u00a0\u00a0\u00a0-0.29\u00a0\u00a0\u00a0-0.29%\u00a0\u00a0\u00a0B=0.00\u00a0\u00a0\u00a0A=0.00\u00a0\u00a0\u00a0O=99.13\u00a0\u00a0\u00a0Hi=99.12\u00a0\u00a0\u00a0Lo=98.83\u00a0\u00a0\u00a0V=0"}]},
 "mark":{"type":"text","color":"#000000","font":"Liberation Sans","fontSize":13,"align":"left","baseline":"alphabetic","dx":164,"dy":14},
 "encoding":{"x":{"datum":{"year":2003,"month":7,"date":23,"utc":true},"type":"temporal"},"y":{"datum":99.68,"type":"quantitative"},"text":{"field":"label"}}}
]
}
